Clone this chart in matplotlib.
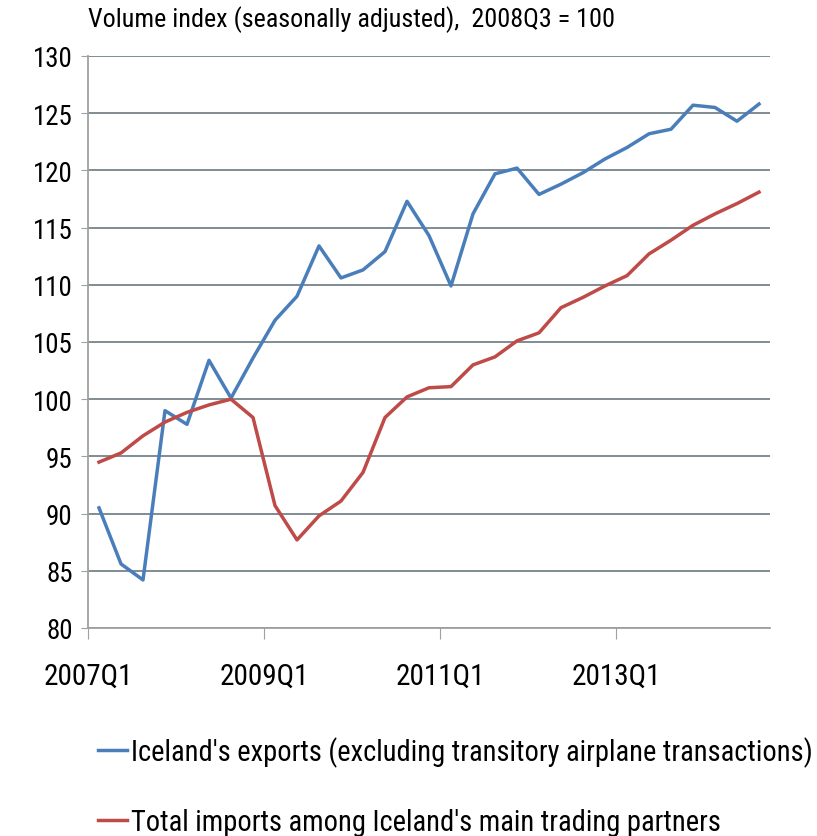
import matplotlib
matplotlib.use("Agg")
import matplotlib.pyplot as plt
from matplotlib import font_manager as fm

quarters = [f"{y}Q{q}" for y in range(2007, 2015) for q in range(1, 5)][:31]
exports = [90.5, 85.6, 84.2, 99.0, 97.8, 103.4, 100.1, 103.6, 106.9, 109.0,
           113.4, 110.6, 111.3, 112.9, 117.3, 114.3, 109.9, 116.2, 119.7, 120.2,
           117.9, 118.8, 119.8, 121.0, 122.0, 123.2, 123.6, 125.7, 125.5, 124.3,
           125.8]
imports = [94.5, 95.3, 96.8, 98.0, 98.85, 99.5, 100.0, 98.4, 90.7, 87.7,
           89.8, 91.1, 93.6, 98.4, 100.2, 101.0, 101.1, 103.0, 103.7, 105.1,
           105.8, 108.0, 108.9, 109.9, 110.8, 112.7, 113.9, 115.2, 116.2, 117.1,
           118.1]
tick_labels = ["2007Q1", "2009Q1", "2011Q1", "2013Q1"]
label_exports = "Iceland's exports (excluding transitory airplane transactions)"
label_imports = "Total imports among Iceland's main trading partners"
title = "Volume index (seasonally adjusted),  2008Q3 = 100"

names = {f.name for f in fm.fontManager.ttflist}
fam = "DejaVu Sans"
for cand in ["Liberation Sans Narrow", "Roboto Condensed", "Open Sans Condensed",
             "Noto Sans Condensed", "Lato"]:
    if cand in names:
        fam = cand
        break
plt.rcParams['font.family'] = [fam, 'DejaVu Sans']

fig = plt.figure(figsize=(8.17, 8.37), dpi=100)
W, H = 817, 837
renderer = fig.canvas.get_renderer()


def fit_size(text, target_px, base=20):
    t = fig.text(0, 0, text, fontsize=base)
    w = t.get_window_extent(renderer).width
    t.remove()
    return base * target_px / w


tick_fs = fit_size("2007Q1", 90)
ytick_fs = fit_size("130", 40)
title_fs = fit_size(title, 527)
leg_fs = fit_size(label_exports, 680)

ax = fig.add_axes([88 / W, 1 - 629 / H, (770 - 88) / W, (629 - 57) / H])

x = list(range(len(quarters)))
ax.plot(x, exports, color="#4A7EBB", lw=2.5, label=label_exports)
ax.plot(x, imports, color="#BE4B48", lw=2.5, label=label_imports)

ax.set_xlim(-0.5, len(quarters) - 0.5)
ax.set_ylim(80, 130)
ax.set_yticks(range(80, 131, 5))
ax.yaxis.grid(True, color="#76838C", lw=1.3)
ax.set_axisbelow(True)
tick_pos = [quarters.index(t) - 0.5 for t in tick_labels]
ax.set_xticks(tick_pos)
ax.set_xticklabels(tick_labels)
for s in ["top", "right"]:
    ax.spines[s].set_visible(False)
for s in ["left", "bottom"]:
    ax.spines[s].set_color("#A0A0A0")
    ax.spines[s].set_linewidth(1.3)
ax.tick_params(axis="y", length=5, color="#A0A0A0", labelsize=ytick_fs, pad=6)
ax.tick_params(axis="x", length=8, color="#A0A0A0", labelsize=tick_fs, pad=16)

fig.text(88 / W, 1 - 20 / H, title, fontsize=title_fs, va="center", ha="left")

fs_px = leg_fs * 100 / 72
leg = fig.legend(loc="upper left", bbox_to_anchor=(98 / W, 1 - 737 / H),
                 frameon=False, fontsize=leg_fs, handlelength=1.0, handletextpad=0.15,
                 labelspacing=(75 - fs_px * 1.17) / fs_px, borderaxespad=0, borderpad=0)

fig.savefig("out.png", dpi=100)
